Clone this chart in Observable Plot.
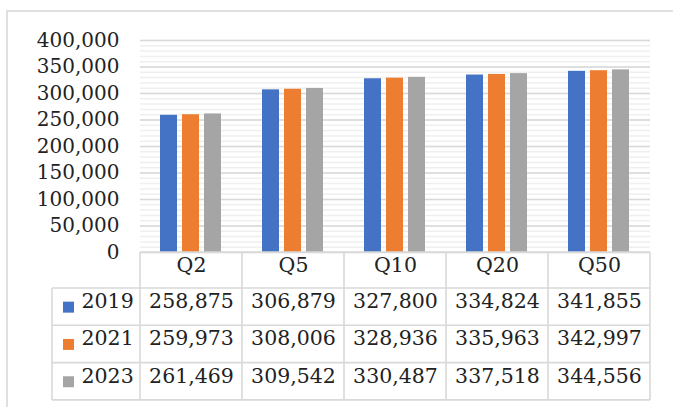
<!DOCTYPE html>
<html>
<head>
<meta charset="utf-8">
<script src="https://cdn.jsdelivr.net/npm/d3@7"></script>
<script src="https://cdn.jsdelivr.net/npm/@observablehq/plot@0.6"></script>
<style>
  body { margin: 0; background: #fff; }
  #chart svg { display: block; }
</style>
</head>
<body>
<div id="chart"></div>
<script>
// Quantile categories and the three survey years
const quantiles = ["Q2", "Q5", "Q10", "Q20", "Q50"];
const years = ["2019", "2021", "2023"];

// Values per year, in quantile order
const values2019 = [258875, 306879, 327800, 334824, 341855];
const values2021 = [259973, 308006, 328936, 335963, 342997];
const values2023 = [261469, 309542, 330487, 337518, 344556];

// Y axis ticks
const yTicks = [0, 50000, 100000, 150000, 200000, 250000, 300000, 350000, 400000];
const yMinorTicks = d3.range(0, 400001, 10000);

const seriesColors = ["#4472C4", "#ED7D31", "#A5A5A5"];

const byYear = {"2019": values2019, "2021": values2021, "2023": values2023};
const rows = years.flatMap(year =>
  quantiles.map((q, i) => ({quantile: q, year, value: byYear[year][i]}))
);

const W = 673, H = 407;
const mLeft = 138, mRight = 22, mTop = 40, mBottom = 155;
const frameBottom = H - mBottom;          // y of the zero line
const headerBottom = frameBottom + 36;    // bottom of the category row
const rowH = 37.3;                        // data table row height
const rowCenters = years.map((_, k) => headerBottom + rowH * (k + 0.5));
const fmt = d3.format(",");
const grid = "#d9d9d9";
const ink = "#222";

const marks = [
  Plot.gridY({ticks: yMinorTicks, stroke: "#efefef", strokeOpacity: 1, strokeWidth: 1.5}),
  Plot.gridY({ticks: yTicks, stroke: grid, strokeOpacity: 1, strokeWidth: 1.6}),
  Plot.barY(rows, {fx: "quantile", x: "year", y: "value", fill: "year"}),
  Plot.axisY({
    ticks: yTicks, tickFormat: fmt, tickSize: 0, tickPadding: 21,
    fontSize: 20, label: null, fill: ink
  }),
  // category row of the data table
  Plot.text(quantiles, {
    fx: d => d, text: d => d, frameAnchor: "bottom",
    dy: (headerBottom - frameBottom) / 2 + 1, fontSize: 20.5, fill: ink
  })
];

years.forEach((year, k) => {
  const dy = rowCenters[k] - frameBottom + 1;
  // values of this year, one cell per quantile
  marks.push(Plot.text(rows.filter(d => d.year === year), {
    fx: "quantile", text: d => fmt(d.value), frameAnchor: "bottom",
    dy, fontSize: 20.5, fill: ink
  }));
  // legend key and year label in the left column
  marks.push(Plot.dot([{quantile: quantiles[0], year}], {
    fx: "quantile", fill: "year", symbol: "square", r: 6.2,
    frameAnchor: "bottom-left", dx: -72, dy: dy - 1
  }));
  marks.push(Plot.text([{quantile: quantiles[0], year}], {
    fx: "quantile", text: "year", frameAnchor: "bottom-left",
    textAnchor: "start", dx: -59, dy, fontSize: 20.5, fill: ink
  }));
});

const chart = Plot.plot({
  width: W,
  height: H,
  marginLeft: mLeft,
  marginRight: mRight,
  marginTop: mTop,
  marginBottom: mBottom,
  style: {fontFamily: "DejaVu Serif", fontSize: "20px", background: "#fff"},
  fx: {domain: quantiles, padding: 0, axis: null, label: null},
  x: {domain: years, paddingInner: 0.21, paddingOuter: 0.9, axis: null},
  y: {domain: [0, 400000], axis: null},
  color: {domain: years, range: seriesColors},
  marks
});

document.getElementById("chart").append(chart);

// Chart border and data-table grid, placed with the facet scale
const svg = d3.select(chart);
svg.insert("rect", ":first-child")
  .attr("x", 7).attr("y", 11).attr("width", W + 20).attr("height", H + 20)
  .attr("fill", "none").attr("stroke", grid).attr("stroke-width", 1.6);

const fx = chart.scale("fx");
const colEdges = quantiles.map(q => fx.apply(q));
colEdges.push(fx.apply(quantiles[quantiles.length - 1]) + fx.bandwidth);
const tableLeft = 52;
const tableBottom = headerBottom + rowH * years.length;

const g = svg.append("g").attr("stroke", grid).attr("stroke-width", 1.6).attr("fill", "none");
// horizontal lines
g.append("line").attr("x1", colEdges[0]).attr("x2", colEdges[colEdges.length - 1])
  .attr("y1", frameBottom).attr("y2", frameBottom);
for (let k = 0; k <= years.length; k++) {
  const y = headerBottom + rowH * k;
  g.append("line").attr("x1", tableLeft).attr("x2", colEdges[colEdges.length - 1])
    .attr("y1", y).attr("y2", y);
}
// vertical lines
g.append("line").attr("x1", tableLeft).attr("x2", tableLeft)
  .attr("y1", headerBottom).attr("y2", tableBottom);
colEdges.forEach(x => {
  g.append("line").attr("x1", x).attr("x2", x).attr("y1", frameBottom).attr("y2", tableBottom);
});
</script>
</body>
</html>
